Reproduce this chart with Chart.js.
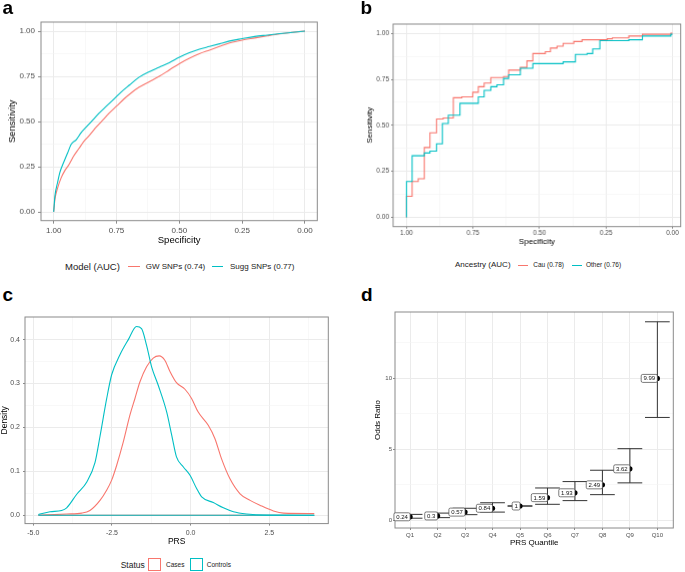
<!DOCTYPE html>
<html>
<head>
<meta charset="utf-8">
<script src="https://cdn.jsdelivr.net/npm/chart.js@4.4.0/dist/chart.umd.min.js"></script>
<style>
  html, body { margin: 0; padding: 0; background: #fff; overflow: hidden; }
  body { width: 685px; height: 572px; position: relative; font-family: "Liberation Sans", Arial, Helvetica, sans-serif; }
  .abs { position: absolute; white-space: nowrap; }
</style>
</head>
<body>
<script>
// ---- couleurs ggplot
const RED = '#F8766D';
const TEAL = '#00BFC4';

// ---- panel a : ROC, deux modeles
const gwSpec = [1.000, 0.995, 0.985, 0.97, 0.955, 0.94, 0.92, 0.90, 0.88, 0.86, 0.83, 0.81, 0.78, 0.75, 0.72, 0.69, 0.66, 0.62, 0.58, 0.54, 0.50, 0.46, 0.42, 0.38, 0.34, 0.30, 0.25, 0.20, 0.15, 0.10, 0.05, 0.00];
const gwSens = [0.000, 0.07, 0.13, 0.19, 0.23, 0.26, 0.31, 0.35, 0.39, 0.42, 0.47, 0.50, 0.545, 0.585, 0.625, 0.66, 0.69, 0.72, 0.75, 0.785, 0.82, 0.85, 0.875, 0.895, 0.915, 0.935, 0.95, 0.962, 0.974, 0.985, 0.993, 1.00];
const suggSpec = [1.000, 0.995, 0.985, 0.975, 0.96, 0.945, 0.93, 0.91, 0.89, 0.87, 0.85, 0.82, 0.79, 0.76, 0.73, 0.70, 0.66, 0.62, 0.58, 0.54, 0.50, 0.46, 0.42, 0.38, 0.34, 0.30, 0.25, 0.20, 0.15, 0.10, 0.05, 0.00];
const suggSens = [0.000, 0.09, 0.16, 0.22, 0.275, 0.325, 0.375, 0.40, 0.44, 0.47, 0.50, 0.545, 0.585, 0.625, 0.665, 0.70, 0.745, 0.775, 0.80, 0.825, 0.855, 0.88, 0.90, 0.915, 0.93, 0.945, 0.958, 0.97, 0.978, 0.986, 0.993, 1.00];

// ---- panel b : ROC par ascendance (courbes en escalier)
const cauSpec = [1.00, 1.00, 0.979, 0.956, 0.933, 0.912, 0.887, 0.862, 0.824, 0.792, 0.751, 0.73, 0.708, 0.683, 0.635, 0.616, 0.572, 0.547, 0.525, 0.478, 0.459, 0.434, 0.411, 0.371, 0.34, 0.245, 0.226, 0.164, 0.113, 0.006, 0.00];
const cauSens = [0.00, 0.115, 0.195, 0.21, 0.38, 0.46, 0.535, 0.54, 0.65, 0.655, 0.68, 0.71, 0.73, 0.76, 0.765, 0.80, 0.815, 0.85, 0.89, 0.90, 0.92, 0.93, 0.945, 0.955, 0.965, 0.97, 0.975, 0.985, 0.995, 1.00, 1.00];
const otherSpec = [1.00, 1.00, 0.979, 0.933, 0.912, 0.887, 0.865, 0.843, 0.799, 0.73, 0.708, 0.683, 0.66, 0.635, 0.616, 0.572, 0.525, 0.411, 0.365, 0.321, 0.30, 0.273, 0.164, 0.113, 0.006, 0.00];
const otherSens = [0.00, 0.195, 0.335, 0.35, 0.36, 0.40, 0.51, 0.555, 0.62, 0.655, 0.69, 0.71, 0.72, 0.755, 0.775, 0.81, 0.835, 0.845, 0.885, 0.89, 0.915, 0.96, 0.965, 0.985, 0.995, 0.995];

const rocMajor = [0, 0.25, 0.5, 0.75, 1];
const rocLabels = ['0.00', '0.25', '0.50', '0.75', '1.00'];
const rocMinor = [0.125, 0.375, 0.625, 0.875];

// ---- panel c : densites du PRS
const casesX = [-4.84, -3.94, -3.46, -3.2, -2.88, -2.67, -2.51, -2.35, -2.14, -1.93, -1.77, -1.61, -1.4, -1.19, -1.0, -0.82, -0.66, -0.45, -0.18, 0.03, 0.24, 0.56, 0.77, 0.98, 1.25, 1.57, 1.89, 2.2, 2.63, 2.95, 3.93];
const casesY = [0.000, 0.003, 0.005, 0.011, 0.034, 0.057, 0.080, 0.114, 0.167, 0.228, 0.266, 0.304, 0.338, 0.358, 0.363, 0.353, 0.328, 0.302, 0.287, 0.266, 0.235, 0.205, 0.175, 0.129, 0.083, 0.049, 0.034, 0.023, 0.010, 0.005, 0.004];
const controlsX = [-4.84, -4.47, -4.1, -3.94, -3.62, -3.3, -3.04, -2.88, -2.67, -2.51, -2.25, -1.98, -1.72, -1.56, -1.4, -1.24, -1.03, -0.76, -0.6, -0.45, -0.23, -0.02, 0.19, 0.35, 0.72, 1.04, 1.36, 1.78, 2.42, 3.93];
const controlsY = [0.002, 0.008, 0.011, 0.017, 0.048, 0.076, 0.120, 0.180, 0.265, 0.320, 0.365, 0.400, 0.430, 0.425, 0.387, 0.338, 0.296, 0.235, 0.182, 0.133, 0.110, 0.091, 0.061, 0.042, 0.029, 0.017, 0.008, 0.003, 0.0005, 0.000];
const prsRange = [-4.84, 3.93];

const cXMajor = [-5, -2.5, 0, 2.5];
const cXLabels = ['-5.0', '-2.5', '0.0', '2.5'];
const cXMinor = [-3.75, -1.25, 1.25, 3.75];
const cYMajor = [0, 0.1, 0.2, 0.3, 0.4];
const cYLabels = ['0.0', '0.1', '0.2', '0.3', '0.4'];
const cYMinor = [0.05, 0.15, 0.25, 0.35];

// ---- panel d : odds ratio par quantile
const quantiles = ['Q1', 'Q2', 'Q3', 'Q4', 'Q5', 'Q6', 'Q7', 'Q8', 'Q9', 'Q10'];
const oddsRatio = [0.24, 0.3, 0.57, 0.84, 1, 1.59, 1.93, 2.49, 3.62, 9.99];
const orLabels = ['0.24', '0.3', '0.57', '0.84', '1', '1.59', '1.93', '2.49', '3.62', '9.99'];
const ciLower = [0.14, 0.18, 0.39, 0.57, 1, 1.12, 1.38, 1.80, 2.63, 7.24];
const ciUpper = [0.41, 0.50, 0.84, 1.23, 1, 2.27, 2.72, 3.52, 5.04, 13.98];
const dYMajor = [0, 5, 10];
const dYLabels = ['0', '5', '10'];
const dYMinor = [2.5, 7.5, 12.5];

Chart.defaults.font.family = '"Liberation Sans", Arial, Helvetica, sans-serif';
Chart.defaults.animation = false;

const PAD = 10;

// Cadre du panneau (theme_bw)
const panelBox = {
    id: 'panelBox',
    afterDatasetsDraw(chart) {
        const a = chart.chartArea, ctx = chart.ctx;
        ctx.save();
        ctx.strokeStyle = '#8a8a8a';
        ctx.lineWidth = 1;
        ctx.strokeRect(a.left, a.top, a.right - a.left, a.bottom - a.top);
        ctx.restore();
    }
};

function place(g) {
    const div = document.createElement('div');
    div.className = 'abs';
    div.style.left = (g.l - g.yw) + 'px';
    div.style.top = (g.t - PAD) + 'px';
    div.style.width = (g.r - g.l + g.yw + PAD) + 'px';
    div.style.height = (g.b - g.t + PAD + g.xh) + 'px';
    const c = document.createElement('canvas');
    div.appendChild(c);
    document.body.appendChild(div);
    return c;
}

function axis(o) {
    const all = o.major.concat(o.minor || []);
    const isMajor = c => c.tick && o.major.indexOf(c.tick.value) >= 0;
    return {
        type: 'linear', min: o.min, max: o.max, reverse: !!o.reverse,
        afterBuildTicks: s => { s.ticks = all.map(v => ({ value: v })); },
        afterFit: s => { if (s.isHorizontal()) s.height = o.fit; else s.width = o.fit; },
        border: { display: false },
        grid: {
            color: c => isMajor(c) ? '#ebebeb' : '#f4f4f4',
            lineWidth: c => isMajor(c) ? 1 : 0.6,
            tickColor: c => isMajor(c) ? '#8a8a8a' : 'rgba(0,0,0,0)',
            tickLength: o.tickLen,
            drawTicks: true
        },
        ticks: {
            autoSkip: false, maxRotation: 0, padding: o.pad, color: '#4d4d4d',
            font: { size: o.size },
            callback: v => { const i = o.major.indexOf(v); return i >= 0 ? o.labels[i] : ''; }
        },
        title: { display: true, text: o.title, color: '#000', font: { size: o.titleSize }, padding: 0 }
    };
}

function baseOptions(x, y) {
    return {
        responsive: true, maintainAspectRatio: false, events: [],
        layout: { padding: { top: PAD, right: PAD, left: 0, bottom: 0 } },
        plugins: { legend: { display: false }, tooltip: { enabled: false } },
        scales: { x: x, y: y }
    };
}

function xy(xs, ys) { return xs.map((v, i) => ({ x: v, y: ys[i] })); }

function lineSet(data, color, extra) {
    return Object.assign({ type: 'line', data: data, borderColor: color, borderWidth: 1.1, pointRadius: 0, fill: false }, extra || {});
}

const SMOOTH = { cubicInterpolationMode: 'monotone' };

// ---------- a
const A = { l: 41, t: 22.3, r: 317.3, b: 220, yw: 34, xh: 25 };
new Chart(place(A), {
    type: 'scatter',
    data: { datasets: [
        lineSet(xy(suggSpec, suggSens), TEAL, SMOOTH),
        lineSet(xy(gwSpec, gwSens), RED, SMOOTH)
    ] },
    options: baseOptions(
        axis({ min: -0.049, max: 1.0505, reverse: true, major: rocMajor, minor: rocMinor, labels: rocLabels, size: 8, title: 'Specificity', titleSize: 9.5, tickLen: 3, pad: 2, fit: A.xh }),
        axis({ min: -0.048, max: 1.05, major: rocMajor, minor: rocMinor, labels: rocLabels, size: 8, title: 'Sensitivity', titleSize: 9.5, tickLen: 3, pad: 3, fit: A.yw })
    ),
    plugins: [panelBox]
});

// ---------- b
const B = { l: 393.3, t: 24.3, r: 680, b: 226, yw: 28, xh: 20 };
new Chart(place(B), {
    type: 'scatter',
    data: { datasets: [
        lineSet(xy(otherSpec, otherSens), TEAL, { stepped: 'before' }),
        lineSet(xy(cauSpec, cauSens), RED, { stepped: 'before' })
    ] },
    options: baseOptions(
        axis({ min: -0.031, max: 1.0505, reverse: true, major: rocMajor, minor: rocMinor, labels: rocLabels, size: 6.5, title: 'Specificity', titleSize: 8, tickLen: 2, pad: 1, fit: B.xh }),
        axis({ min: -0.05, max: 1.05, major: rocMajor, minor: rocMinor, labels: rocLabels, size: 6.5, title: 'Sensitivity', titleSize: 8, tickLen: 2, pad: 2, fit: B.yw })
    ),
    plugins: [panelBox]
});

// ---------- c
const C = { l: 25, t: 316.7, r: 328.3, b: 523.3, yw: 25, xh: 23 };
new Chart(place(C), {
    type: 'scatter',
    data: { datasets: [
        lineSet(prsRange.map(v => ({ x: v, y: 0 })), TEAL),
        lineSet(xy(controlsX, controlsY), TEAL, SMOOTH),
        lineSet(prsRange.map(v => ({ x: v, y: 0 })), RED),
        lineSet(xy(casesX, casesY), RED, SMOOTH)
    ] },
    options: baseOptions(
        axis({ min: -5.264, max: 4.375, major: cXMajor, minor: cXMinor, labels: cXLabels, size: 7, title: 'PRS', titleSize: 8.5, tickLen: 2, pad: 3, fit: C.xh }),
        axis({ min: -0.0189, max: 0.4515, major: cYMajor, minor: cYMinor, labels: cYLabels, size: 7, title: 'Density', titleSize: 8.5, tickLen: 2, pad: 3, fit: C.yw })
    ),
    plugins: [panelBox]
});

// ---------- d
const D = { l: 395, t: 312.3, r: 673.3, b: 528.3, yw: 22, xh: 20 };
const CAP = 0.45; // demi-largeur des barres d'erreur (width = 0.9)
const errSegments = [];
quantiles.forEach((q, i) => {
    const x = i + 1;
    errSegments.push({ x: x - CAP, y: ciUpper[i] }, { x: x + CAP, y: ciUpper[i] }, { x: x, y: null });
    errSegments.push({ x: x - CAP, y: ciLower[i] }, { x: x + CAP, y: ciLower[i] }, { x: x, y: null });
    errSegments.push({ x: x, y: ciLower[i] }, { x: x, y: ciUpper[i] }, { x: x, y: null });
});

const orLabelPlugin = {
    id: 'orLabels',
    afterDatasetsDraw(chart) {
        const ctx = chart.ctx, sx = chart.scales.x, sy = chart.scales.y;
        ctx.save();
        ctx.font = '6px "Liberation Sans", Arial, sans-serif';
        ctx.textBaseline = 'middle';
        ctx.textAlign = 'left';
        orLabels.forEach((t, i) => {
            const px = sx.getPixelForValue(i + 1);
            const py = sy.getPixelForValue(oddsRatio[i]);
            const w = ctx.measureText(t).width + 4.5;
            const h = 8;
            const x0 = px - w, y0 = py - h / 2, r = 1.5;
            ctx.beginPath();
            ctx.moveTo(x0 + r, y0);
            ctx.lineTo(x0 + w - r, y0); ctx.quadraticCurveTo(x0 + w, y0, x0 + w, y0 + r);
            ctx.lineTo(x0 + w, y0 + h - r); ctx.quadraticCurveTo(x0 + w, y0 + h, x0 + w - r, y0 + h);
            ctx.lineTo(x0 + r, y0 + h); ctx.quadraticCurveTo(x0, y0 + h, x0, y0 + h - r);
            ctx.lineTo(x0, y0 + r); ctx.quadraticCurveTo(x0, y0, x0 + r, y0);
            ctx.closePath();
            ctx.fillStyle = '#fff';
            ctx.fill();
            ctx.strokeStyle = '#444';
            ctx.lineWidth = 0.7;
            ctx.stroke();
            ctx.fillStyle = '#111';
            ctx.fillText(t, x0 + 2.25, py + 0.3);
        });
        ctx.restore();
    }
};

new Chart(place(D), {
    type: 'scatter',
    data: { datasets: [
        { data: oddsRatio.map((v, i) => ({ x: i + 1, y: v })), pointRadius: 2.6, backgroundColor: '#000', borderWidth: 0, showLine: false },
        lineSet(errSegments, '#333', { showLine: true, spanGaps: false, borderWidth: 1 })
    ] },
    options: baseOptions(
        axis({ min: 0.45, max: 10.58, major: quantiles.map((q, i) => i + 1), minor: [], labels: quantiles, size: 6, title: 'PRS Quantile', titleSize: 8, tickLen: 2, pad: 2, fit: D.xh }),
        axis({ min: -0.55, max: 14.67, major: dYMajor, minor: dYMinor, labels: dYLabels, size: 6, title: 'Odds Ratio', titleSize: 8, tickLen: 2, pad: 1, fit: D.yw })
    ),
    plugins: [panelBox, orLabelPlugin]
});

// ---------- legendes et lettres (HTML)
function txt(x, yc, s, size, color, weight) {
    const e = document.createElement('div');
    e.className = 'abs';
    e.textContent = s;
    e.style.left = x + 'px';
    e.style.top = yc + 'px';
    e.style.fontSize = size + 'px';
    e.style.lineHeight = '1';
    e.style.transform = 'translateY(-50%)';
    e.style.color = color || '#1a1a1a';
    if (weight) e.style.fontWeight = weight;
    document.body.appendChild(e);
}
function keyLine(x0, x1, yc, color) {
    const e = document.createElement('div');
    e.className = 'abs';
    e.style.left = x0 + 'px'; e.style.top = (yc - 0.5) + 'px';
    e.style.width = (x1 - x0) + 'px'; e.style.height = '1px';
    e.style.background = color;
    document.body.appendChild(e);
}
function keyBox(x, y, s, color) {
    const e = document.createElement('div');
    e.className = 'abs';
    e.style.left = x + 'px'; e.style.top = y + 'px';
    e.style.width = (s - 2) + 'px'; e.style.height = (s - 2) + 'px';
    e.style.border = '1px solid ' + color;
    document.body.appendChild(e);
}

const panelLetters = [['a', 2.5, 7], ['b', 360.5, 7], ['c', 2.5, 294], ['d', 361, 294]];
panelLetters.forEach(p => txt(p[1], p[2], p[0], 19, '#000', 'bold'));

const legA = ['Model (AUC)', 'GW SNPs (0.74)', 'Sugg SNPs (0.77)'];
txt(65, 266.7, legA[0], 9.5);
keyLine(128.3, 140, 266.7, RED);
txt(145.7, 266.7, legA[1], 8);
keyLine(211.7, 223.3, 266.7, TEAL);
txt(230, 266.7, legA[2], 8);

const legB = ['Ancestry (AUC)', 'Cau (0.78)', 'Other (0.76)'];
txt(455, 265, legB[0], 8);
keyLine(518.3, 528.3, 265, RED);
txt(533.3, 265, legB[1], 6.5);
keyLine(571.7, 581.7, 265, TEAL);
txt(586, 265, legB[2], 6.5);

const legC = ['Status', 'Cases', 'Controls'];
txt(120.7, 565, legC[0], 8.5);
keyBox(148.3, 558.3, 12.7, RED);
txt(166, 565, legC[1], 6.5);
keyBox(190, 558.3, 12.5, TEAL);
txt(206.7, 565, legC[2], 6.5);
</script>
</body>
</html>
